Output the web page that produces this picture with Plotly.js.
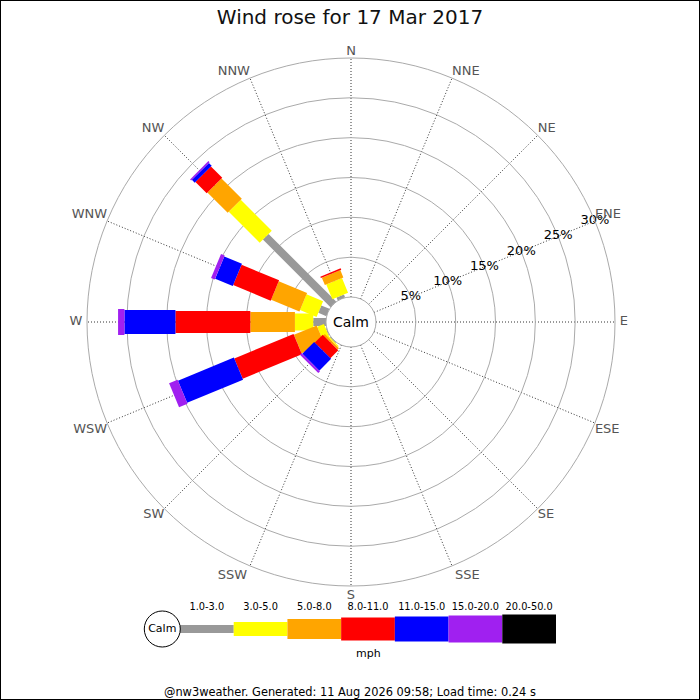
<!DOCTYPE html>
<html>
<head>
<meta charset="utf-8">
<script src="https://cdn.plot.ly/plotly-3.0.1.min.js"></script>
<style>
  html, body { margin: 0; padding: 0; background: #fff; }
  #chart { width: 700px; height: 700px; }
</style>
</head>
<body>
<div id="chart"></div>
<script>
// ---- data ----
const directions = ['N','NNE','NE','ENE','E','ESE','SE','SSE','S','SSW','SW','WSW','W','WNW','NW','NNW'];
const speedBands = ['1.0-3.0','3.0-5.0','5.0-8.0','8.0-11.0','11.0-15.0','15.0-20.0','20.0-50.0'];
const speedUnit = 'mph';
// percent of time per direction, one array per speed band (order follows `directions`)
const band1to3   = [0,0,0,0,0,0,0,0,0,0,0.10,0.10,1.60,1.10,12.00,0.40];
const band3to5   = [0,0,0,0,0,0,0,0,0,0,0.15,0.90,2.30,2.25,5.50,2.00];
const band5to8   = [0,0,0,0,0,0,0,0,0,0,0.25,3.10,5.60,3.85,3.60,1.00];
const band8to11  = [0,0,0,0,0,0,0,0,0,0,1.40,8.05,9.40,5.10,2.00,0.20];
const band11to15 = [0,0,0,0,0,0,0,0,0,0,2.10,7.60,6.40,2.40,0.50,0.00];
const band15to20 = [0,0,0,0,0,0,0,0,0,0,0.30,1.15,0.80,0.50,0.20,0.00];
const band20to50 = [0,0,0,0,0,0,0,0,0,0,0,0,0,0,0,0];
const radialTicks = [0,5,10,15,20,25,30];
const radialLabelDir = 'ENE';
const titleText = 'Wind rose for 17 Mar 2017';
const footerText = '@nw3weather. Generated: 11 Aug 2026 09:58; Load time: 0.24 s';

// ---- styles ----
const bandColors = ['#999999','#ffff00','#ffa500','#ff0000','#0000ff','#a020f0','#000000'];
const roseWidths = [8,17,20,22,24,26,28];
const legendWidths = [8,14,20,23,25,27,29];
const FONT = 'DejaVu Sans, sans-serif';

const bandValues = [band1to3, band3to5, band5to8, band8to11, band11to15, band15to20, band20to50];
const thetaOf = i => i * 360 / directions.length;
const rMax = radialTicks[radialTicks.length - 1];

const traces = [];
// rose segments: one trace per speed band, stacked cumulatively per direction
const cum = directions.map(() => 0);
bandValues.forEach((vals, b) => {
  const r = [], th = [];
  vals.forEach((v, d) => {
    if (v > 0) {
      r.push(cum[d], cum[d] + v, null);
      th.push(thetaOf(d), thetaOf(d), null);
    }
    cum[d] += v;
  });
  traces.push({
    type: 'scatterpolar', mode: 'lines', r: r, theta: th,
    line: {color: bandColors[b], width: roseWidths[b]},
    connectgaps: false, hoverinfo: 'skip', showlegend: false
  });
});

// radial percentage labels, centred on the ENE spoke
const labelTicks = radialTicks.filter(v => v > 0);
traces.push({
  type: 'scatterpolar', mode: 'text',
  r: labelTicks, theta: labelTicks.map(() => thetaOf(directions.indexOf(radialLabelDir))),
  text: labelTicks.map(v => v + '%'), textposition: 'middle center',
  textfont: {family: FONT, size: 13, color: '#000'},
  cliponaxis: false, hoverinfo: 'skip', showlegend: false
});

// compass labels just outside the outer ring, anchored by their corner
const posFor = i => {
  const a = thetaOf(i) * Math.PI / 180, s = Math.sin(a), c = Math.cos(a);
  const v = c > 0.1 ? 'top' : (c < -0.1 ? 'bottom' : 'middle');
  const h = s > 0.1 ? 'right' : (s < -0.1 ? 'left' : 'center');
  return v + ' ' + h;
};
// invisible anchor size per label (sets the gap between ring and text)
const gapFor = i => {
  const a = thetaOf(i) * Math.PI / 180;
  return Math.abs(Math.cos(a)) < 0.1 ? 6 : (Math.cos(a) < -0.9 ? 3 : 0);
};
traces.push({
  type: 'scatterpolar', mode: 'markers+text',
  r: directions.map(() => rMax), theta: directions.map((_, i) => thetaOf(i)),
  text: directions, textposition: directions.map((_, i) => posFor(i)),
  textfont: {family: FONT, size: 13, color: '#555'},
  marker: {size: directions.map((_, i) => gapFor(i)), color: 'rgba(0,0,0,0)', line: {width: 0}},
  cliponaxis: false, hoverinfo: 'skip', showlegend: false
});

// legend strip
speedBands.forEach((name, b) => {
  traces.push({
    type: 'scatter', mode: 'lines', x: [b, b + 1], y: [0, 0],
    xaxis: 'x', yaxis: 'y',
    line: {color: bandColors[b], width: legendWidths[b]},
    hoverinfo: 'skip', showlegend: false, cliponaxis: false
  });
});
traces.push({
  type: 'scatter', mode: 'text', x: speedBands.map((_, b) => b + 0.5), y: speedBands.map(() => 21),
  text: speedBands, textposition: 'middle center',
  textfont: {family: FONT, size: 9.8, color: '#000'},
  xaxis: 'x', yaxis: 'y', hoverinfo: 'skip', showlegend: false, cliponaxis: false
});
traces.push({
  type: 'scatter', mode: 'markers+text', x: [-0.33], y: [0], text: ['Calm'],
  textposition: 'middle center', textfont: {family: FONT, size: 11, color: '#000'},
  marker: {size: 36, color: '#fff', line: {color: '#000', width: 1}},
  xaxis: 'x', yaxis: 'y', hoverinfo: 'skip', showlegend: false, cliponaxis: false
});

const cx = 351, cy = 322, R = 264;
const layout = {
  width: 700, height: 700,
  margin: {l: 0, r: 0, t: 0, b: 0},
  paper_bgcolor: '#fff', plot_bgcolor: 'rgba(0,0,0,0)',
  font: {family: FONT, color: '#000'},
  title: {text: titleText, x: 0.5, xanchor: 'center', y: 1 - 17/700, yanchor: 'middle',
          font: {family: FONT, size: 20, color: '#111'}},
  polar: {
    domain: {x: [(cx - R)/700, (cx + R)/700], y: [(700 - cy - R)/700, (700 - cy + R)/700]},
    hole: 25 / R,
    bgcolor: '#fff',
    angularaxis: {
      rotation: 90, direction: 'clockwise',
      tickmode: 'array', tickvals: directions.map((_, i) => thetaOf(i)), showticklabels: false,
      showgrid: true, gridcolor: '#333', gridwidth: 1, griddash: '1px,2px',
      showline: true, linecolor: '#aaa', linewidth: 1, ticks: ''
    },
    radialaxis: {
      range: [0, rMax], angle: 22.5,
      tickmode: 'array', tickvals: radialTicks, showticklabels: false,
      showgrid: true, gridcolor: '#aaa', gridwidth: 1,
      showline: false, ticks: ''
    }
  },
  xaxis: {domain: [126.3/700, 556/700], range: [-1, 7], visible: false, fixedrange: true},
  yaxis: {domain: [(700-663)/700, (700-597)/700], range: [-34, 32], visible: false, fixedrange: true},
  annotations: [
    {text: 'Calm', xref: 'paper', yref: 'paper', x: cx/700, y: (700-cy)/700,
     xanchor: 'center', yanchor: 'middle', showarrow: false, font: {family: FONT, size: 14, color: '#000'}},
    {text: speedUnit, xref: 'x', yref: 'y', x: 3.5, y: -24, xanchor: 'center', yanchor: 'middle',
     showarrow: false, font: {family: FONT, size: 11, color: '#000'}},
    {text: footerText, xref: 'paper', yref: 'paper', x: 0.5, y: 1 - 692/700,
     xanchor: 'center', yanchor: 'middle', showarrow: false, font: {family: FONT, size: 11.4, color: '#000'}}
  ],
  shapes: [
    {type: 'rect', xref: 'paper', yref: 'paper', x0: 0, y0: 0, x1: 1, y1: 1,
     line: {color: '#000', width: 2}, fillcolor: 'rgba(0,0,0,0)'}
  ]
};

Plotly.newPlot('chart', traces, layout, {displayModeBar: false, staticPlot: true});
</script>
</body>
</html>
